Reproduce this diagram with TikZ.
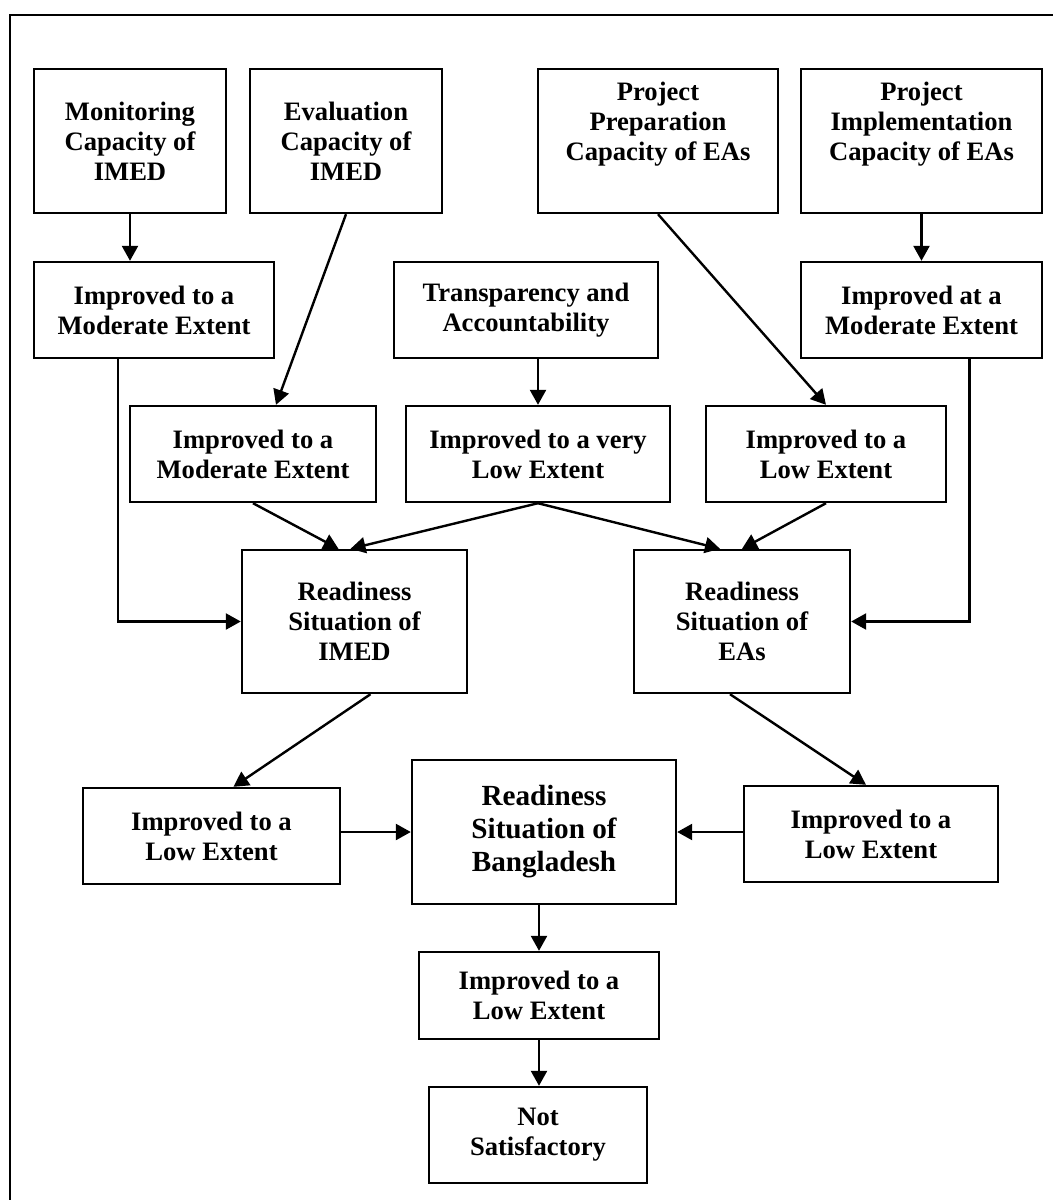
\documentclass[tikz,border=0pt]{standalone}
\usepackage{fontspec}
\setmainfont{Liberation Serif}
\usepackage{xcolor}
\usetikzlibrary{arrows.meta,calc}
\definecolor{primary}{RGB}{0, 0, 0}

\begin{document}
\begin{tikzpicture}[x=0.5pt,y=-0.5pt,
  box/.style={draw=primary,line width=1.2pt,align=center,inner sep=0pt,
    font=\bfseries\fontsize{13.3}{15}\selectfont},
  link/.style={primary,line width=1.2pt,-{Triangle[length=7.5pt,width=8pt]}}]
\useasboundingbox (0,0) rectangle (1053,1200);
\draw[primary,line width=1pt] (1053,15) -- (10,15) -- (10,1200);
\node[box,minimum width=96pt,minimum height=72pt] (mon) at (130,141) {Monitoring\\Capacity of\\IMED};
\node[box,minimum width=96pt,minimum height=72pt] (eva) at (346,141) {Evaluation\\Capacity of\\IMED};
\node[box,minimum width=120pt,minimum height=72pt] (prep) at (658,141) {Project\\Preparation\\Capacity of EAs\\[5pt]\mbox{}};
\node[box,minimum width=120.5pt,minimum height=72pt] (impl) at (921.5,141) {Project\\Implementation\\Capacity of EAs\\[5pt]\mbox{}};
\node[box,minimum width=120pt,minimum height=48pt] (mod1) at (154,310) {Improved to a\\Moderate Extent};
\node[box,minimum width=132pt,minimum height=48pt] (trans) at (526,310) {Transparency and\\Accountability};
\node[box,minimum width=120.5pt,minimum height=48pt] (modat) at (921.5,310) {Improved at a\\Moderate Extent};
\node[box,minimum width=123pt,minimum height=48pt] (mod2) at (253,454) {Improved to a\\Moderate Extent};
\node[box,minimum width=132pt,minimum height=48pt] (vlow) at (538,454) {Improved to a very\\Low Extent};
\node[box,minimum width=120pt,minimum height=48pt] (low1) at (826,454) {Improved to a\\Low Extent};
\node[box,minimum width=112.5pt,minimum height=71.5pt] (rimed) at (354.5,621.5) {Readiness\\Situation of\\IMED};
\node[box,minimum width=108pt,minimum height=71.5pt] (reas) at (742,621.5) {Readiness\\Situation of\\EAs};
\node[box,minimum width=128.5pt,minimum height=48pt] (lowl) at (211.5,836) {Improved to a\\Low Extent};
\node[box,minimum width=132pt,minimum height=72pt,font=\bfseries\fontsize{14.6}{16.5}\selectfont] (rbd) at (544,832) {Readiness\\Situation of\\Bangladesh};
\node[box,minimum width=127pt,minimum height=48pt] (lowr) at (871,834) {Improved to a\\Low Extent};
\node[box,minimum width=120pt,minimum height=43.5pt] (lowb) at (539,995.5) {Improved to a\\Low Extent};
\node[box,minimum width=109pt,minimum height=48pt] (nots) at (538,1135) {Not\\Satisfactory};
\draw[link] (mon.south) -- (mon.south |- mod1.north);
\draw[link] (eva.south) -- ([xshift=11.5pt]mod2.north);
\draw[link] (prep.south) -- (low1.north);
\draw[link] (impl.south) -- (modat.north);
\draw[link] (vlow.north |- trans.south) -- (vlow.north);
\draw[link] ([xshift=-18pt]mod1.south) |- (rimed.west);
\draw[link] ([xshift=24pt]modat.south) |- (reas.east);
\draw[link] (mod2.south) -- ([xshift=-8pt]rimed.north);
\draw[link] (vlow.south) -- ([xshift=-2pt]rimed.north);
\draw[link] (vlow.south) -- ([xshift=-11pt]reas.north);
\draw[link] (low1.south) -- (reas.north);
\draw[link] ([xshift=8pt]rimed.south) -- ([xshift=11pt]lowl.north);
\draw[link] ([xshift=-6pt]reas.south) -- ([xshift=-2.5pt]lowr.north);
\draw[link] (rbd.west -| lowl.east) -- (rbd.west);
\draw[link] (rbd.east -| lowr.west) -- (rbd.east);
\draw[link] (lowb.north |- rbd.south) -- (lowb.north);
\draw[link] (lowb.south) -- (lowb.south |- nots.north);
\end{tikzpicture}
\end{document}
